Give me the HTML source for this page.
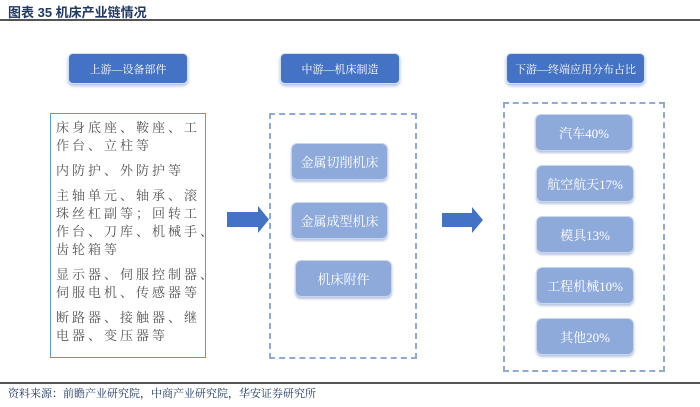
<!DOCTYPE html>
<html><head><meta charset="utf-8"><style>
body{margin:0;width:700px;height:407px;background:#fff;position:relative;overflow:hidden;font-family:"Liberation Serif","Noto Serif CJK SC",serif}
.a{position:absolute}
.hd{position:absolute;background:#4472c4;border-radius:5px;color:#fff;font-size:11px;display:flex;align-items:center;justify-content:center;box-shadow:0 2px 3px rgba(68,114,196,.45);border:1px solid #d6e0f5;box-sizing:border-box}
.bx{position:absolute;background:#8eaadb;border-radius:6px;color:#fff;font-size:13px;display:flex;align-items:center;justify-content:center;box-shadow:0 2px 2px rgba(120,140,190,.5);border:1px solid #c9d6ef;box-sizing:border-box}
.dash{position:absolute;border:2px dashed #8eaadb;box-sizing:border-box}
.lt p{margin:0 0 7px;line-height:18px;white-space:nowrap}
</style></head><body>
<div class="a" style="left:8px;top:2px;font-size:13px;font-weight:bold;color:#1f3864;font-family:'Liberation Sans','Noto Sans CJK SC',sans-serif">图表 35 机床产业链情况</div>
<div class="a" style="left:0;top:19px;width:700px;height:2px;background:#555"></div>
<div class="hd" style="left:68px;top:53px;width:120px;height:31px">上游—设备部件</div>
<div class="hd" style="left:280px;top:53px;width:120px;height:31px">中游—机床制造</div>
<div class="hd" style="left:506px;top:53px;width:139px;height:31px">下游—终端应用分布占比</div>
<div class="a lt" style="left:50px;top:113px;width:156px;height:245px;border:1.5px solid #5b9bd5;box-sizing:border-box;padding:5px 0 0 5px;font-size:13px;color:#555;letter-spacing:3px">
<p>床身底座、鞍座、工<br>作台、立柱等</p><p>内防护、外防护等</p><p>主轴单元、轴承、滚<br>珠丝杠副等；回转工<br>作台、刀库、机械手、<br>齿轮箱等</p><p>显示器、伺服控制器、<br>伺服电机、传感器等</p><p>断路器、接触器、继<br>电器、变压器等</p></div>
<svg class="a" style="left:0;top:0" width="700" height="407">
<polygon points="227,212 258,212 258,206 269,219.5 258,233 258,227 227,227" fill="#4472c4"/>
<polygon points="442,213 472,213 472,207 483,220 472,233 472,227 442,227" fill="#4472c4"/>
</svg>
<div class="dash" style="left:269px;top:113px;width:148px;height:246px"></div>
<div class="bx" style="left:291px;top:143px;width:97px;height:37px">金属切削机床</div>
<div class="bx" style="left:291px;top:202px;width:97px;height:37px">金属成型机床</div>
<div class="bx" style="left:295px;top:260px;width:97px;height:37px">机床附件</div>
<div class="dash" style="left:503px;top:102px;width:162px;height:270px"></div>
<div class="bx" style="left:535px;top:114px;width:98px;height:37px">汽车40%</div>
<div class="bx" style="left:536px;top:165px;width:98px;height:37px">航空航天17%</div>
<div class="bx" style="left:536px;top:216px;width:98px;height:37px">模具13%</div>
<div class="bx" style="left:536px;top:267px;width:98px;height:37px">工程机械10%</div>
<div class="bx" style="left:536px;top:318px;width:98px;height:37px">其他20%</div>
<div class="a" style="left:0;top:382px;width:700px;height:2px;background:#555"></div>
<div class="a" style="left:8px;top:385px;font-size:11px;color:#1f3864">资料来源：前瞻产业研究院，中商产业研究院，华安证券研究所</div>
</body></html>
